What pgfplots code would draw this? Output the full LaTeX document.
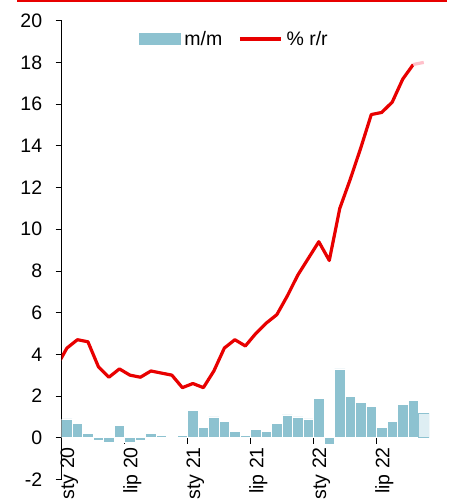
\documentclass[border=0pt]{standalone}
\usepackage{pgfplots}
\pgfplotsset{compat=1.18}
\usepackage{fontspec}
\setmainfont{Liberation Sans}
\definecolor{barblue}{RGB}{141,194,208}
\definecolor{barlight}{RGB}{222,238,243}
\definecolor{lred}{RGB}{232,0,0}
\definecolor{lpink}{RGB}{255,192,202}
\begin{document}
\begin{tikzpicture}[x=1pt,y=1pt]
\useasboundingbox (-61.7,-24.6) rectangle (387.3,479.4);
\clip (-61.7,-24.6) rectangle (387.3,479.4);
\fill[lred] (-44.7,477.2) rectangle (385.3,479.4);
\begin{axis}[
  at={(0,0)}, anchor=south west, scale only axis,
  width=367.3pt, height=458.7pt,
  xmin=-0.5, xmax=34.5, ymin=-2, ymax=20,
  axis y line*=left, axis x line*=middle,
  y axis line style={black, line width=0.6pt},
  x axis line style={black!75, line width=0.8pt},
  ytick={-2,0,2,4,6,8,10,12,14,16,18,20},
  xtick={0,6,12,18,24,30},
  xticklabels={sty 20,lip 20,sty 21,lip 21,sty 22,lip 22},
  minor xtick={-0.5,5.5,11.5,17.5,23.5,29.5},
  tick align=outside,
  major tick length=6pt, minor tick length=6pt,
  major x tick style={draw=none},
  minor x tick style={black, line width=0.6pt},
  y tick style={black, line width=0.6pt},
  /pgf/number format/assume math mode=true,
  tick label style={font=\fontsize{19.5pt}{22pt}\selectfont},
  yticklabel style={anchor=east, xshift=-10pt},
  xticklabel style={rotate=90, anchor=east, yshift=-2.5pt},
  legend style={at={(axis description cs:0.47,0.96)}, anchor=center,
    draw=none, fill=none, legend columns=2,
    font=\fontsize{19.5pt}{22pt}\selectfont,
    /tikz/every even column/.append style={column sep=14pt},
    /tikz/every odd column/.append style={column sep=0pt}},
  clip=true,
]
\addplot[ybar, bar width=1, bar shift=0pt, fill=barblue, draw=white, line width=0.5pt,
  legend image code/.code={\fill[barblue] (0pt,-5.5pt) rectangle (41pt,5.5pt);}]
  coordinates {
  (0,0.9) (1,0.7) (2,0.2) (3,-0.1) (4,-0.2) (5,0.6) (6,-0.2) (7,-0.1) (8,0.2) (9,0.1)
  (10,0.05) (11,0.1) (12,1.3) (13,0.5) (14,1.0) (15,0.8) (16,0.3) (17,0.1) (18,0.4) (19,0.3)
  (20,0.7) (21,1.1) (22,1.0) (23,0.9) (24,1.9) (25,-0.3) (26,3.3) (27,2.0) (28,1.7) (29,1.5)
  (30,0.5) (31,0.8) (32,1.6) (33,1.8)};
\addlegendentry{\hspace{2pt}m/m}
\addplot[sharp plot, lred, line width=3.2pt, line join=round,
  legend image code/.code={\draw[lred, line width=3.2pt] (0pt,0pt) -- (41pt,0pt);}]
  coordinates {
  (-1,3.4) (0,4.3) (1,4.7) (2,4.6) (3,3.4) (4,2.9) (5,3.3) (6,3.0) (7,2.9) (8,3.2) (9,3.1)
  (10,3.0) (11,2.4) (12,2.6) (13,2.4) (14,3.2) (15,4.3) (16,4.7) (17,4.4) (18,5.0) (19,5.5)
  (20,5.9) (21,6.8) (22,7.8) (23,8.6) (24,9.4) (25,8.5) (26,11.0) (27,12.4) (28,13.9) (29,15.5)
  (30,15.6) (31,16.1) (32,17.2) (33,17.9)};
\addlegendentry{\hspace{2pt}\% r/r}
\addplot[ybar, bar width=1, bar shift=0pt, fill=barlight, draw=barblue, line width=0.6pt, forget plot]
  coordinates {(34,1.15)};
\addplot[sharp plot, lpink, line width=3.2pt, forget plot]
  coordinates {(33,17.9) (34,18.0)};
\end{axis}
\end{tikzpicture}
\end{document}
